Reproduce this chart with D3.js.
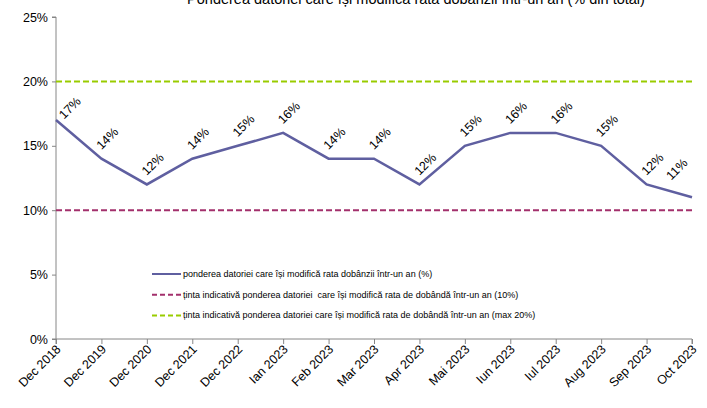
<!DOCTYPE html>
<html><head><meta charset="utf-8">
<script src="https://cdn.jsdelivr.net/npm/d3@7"></script>
<style>body{margin:0;background:#fff}svg{display:block;font-family:"Liberation Sans",Arial,sans-serif}</style>
</head><body><svg id="c" width="707" height="408"></svg>
<script>
const categories = ["Dec 2018","Dec 2019","Dec 2020","Dec 2021","Dec 2022","Ian 2023","Feb 2023","Mar 2023","Apr 2023","Mai 2023","Iun 2023","Iul 2023","Aug 2023","Sep 2023","Oct 2023"];
const shareValues = [17,14,12,14,15,16,14,14,12,15,16,16,15,12,11];
const targetMin = 10;
const targetMax = 20;
const yTicks = [0,5,10,15,20,25];
const title = "Ponderea datoriei care își modifică rata dobânzii într-un an (% din total)";
const legendLabels = [
  "ponderea datoriei care își modifică rata dobânzii într-un an (%)",
  "ținta indicativă ponderea datoriei  care își modifică rata de dobândă într-un an (10%)",
  "ținta indicativă ponderea datoriei care își modifică rata de dobândă într-un an (max 20%)"
];

const svg = d3.select("#c");
const L = 56, R = 692, T = 17, B = 339;
const x = d3.scalePoint().domain(categories).range([L, R]);
const y = d3.scaleLinear().domain([0, 25]).range([B, T]);
const axisCol = "#868686";

svg.append("text").attr("x", 416).attr("y", 4).attr("text-anchor", "middle")
  .attr("font-size", 14.5).attr("fill", "#000").text(title);

// y axis
const ya = svg.append("g").attr("transform", `translate(${L},0)`)
  .call(d3.axisLeft(y).tickValues(yTicks).tickSize(4).tickFormat(d => d + "%"));
ya.select(".domain").attr("stroke", axisCol).attr("d", `M-4,${T}H0V${B}H-4`);
ya.selectAll(".tick line").attr("stroke", axisCol);
ya.selectAll(".tick text").attr("font-size", 12.5).attr("fill", "#000").attr("x", -8)
  .attr("font-family", "Liberation Sans, Arial, sans-serif");

// x axis
const xa = svg.append("g").attr("transform", `translate(0,${B})`)
  .call(d3.axisBottom(x).tickSize(5));
xa.select(".domain").attr("stroke", axisCol).attr("d", `M${L},5V0H${R}V5`);
xa.selectAll(".tick line").attr("stroke", axisCol);
xa.selectAll(".tick text").attr("font-size", 12.5).attr("fill", "#000")
  .attr("font-family", "Liberation Sans, Arial, sans-serif")
  .attr("text-anchor", "end").attr("dy", 0).attr("y", 0)
  .attr("transform", "translate(5,11) rotate(-45)");

// target lines
const targets = [
  {v: targetMin, c: "#A3306C"},
  {v: targetMax, c: "#99CC00"}
];
svg.selectAll(".tgt").data(targets).join("line")
  .attr("x1", L).attr("x2", R)
  .attr("y1", d => y(d.v)).attr("y2", d => y(d.v))
  .attr("stroke", d => d.c).attr("stroke-width", 2).attr("stroke-dasharray", "6,3");

// main line
const lineCol = "#5F5FA0";
svg.append("path").datum(shareValues)
  .attr("fill", "none").attr("stroke", lineCol).attr("stroke-width", 2.5)
  .attr("d", d3.line().x((d, i) => x(categories[i])).y(d => y(d)));

// labels
const n = shareValues.length;
svg.selectAll(".lbl").data(shareValues).join("text")
  .attr("font-size", 12.5).attr("fill", "#000").attr("text-anchor", "middle")
  .attr("dominant-baseline", "central")
  .attr("transform", (d, i) => {
    let cx = x(categories[i]) + 6, cy = y(d) - 20;
    if (i === 0) { cx = x(categories[i]) + 14; cy = y(d) - 12; }
    if (i === n - 1) { cx = x(categories[i]) - 15; cy = y(d) - 28; }
    return `translate(${cx},${cy}) rotate(-45)`;
  })
  .text(d => d + "%");

// legend
const legCols = [lineCol, "#A3306C", "#99CC00"];
const lg = svg.append("g");
legendLabels.forEach((t, i) => {
  const ly = 274 + i * 20.7;
  lg.append("line").attr("x1", 152).attr("x2", 181).attr("y1", ly).attr("y2", ly)
    .attr("stroke", legCols[i]).attr("stroke-width", 2)
    .attr("stroke-dasharray", i === 0 ? null : "5,3");
  lg.append("text").attr("x", 183).attr("y", ly).attr("dominant-baseline", "central")
    .attr("font-size", 9).attr("fill", "#000").style("white-space", "pre").text(t);
});
</script></body></html>
